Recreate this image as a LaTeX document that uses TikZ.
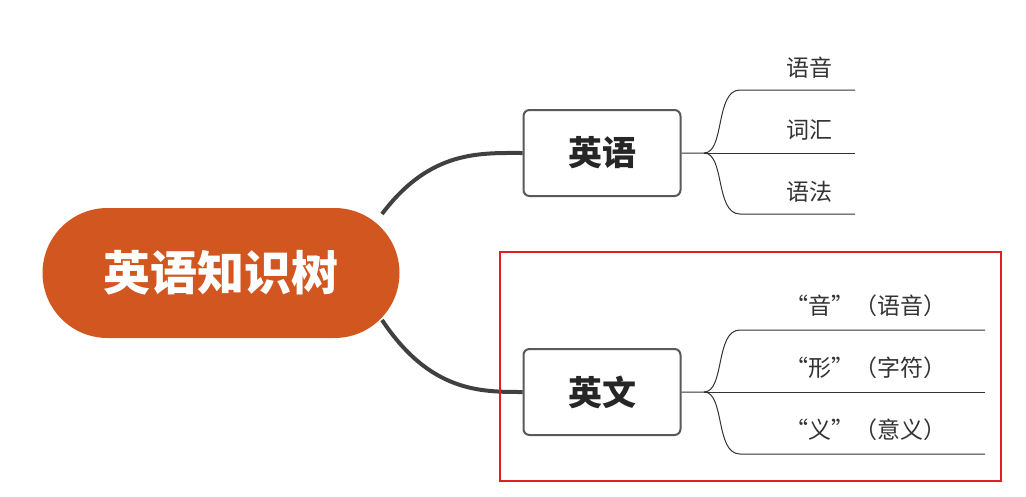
\documentclass[tikz,border=0pt]{standalone}
\usepackage{fontspec}
\newfontfamily\cjk{Noto Sans CJK SC}
\begin{document}
\begin{tikzpicture}[x=1pt,y=-1pt,
  rootbox/.style={fill=rootc,rounded corners=65pt,minimum width=357pt,minimum height=130pt,text=white,font=\cjk\bfseries\fontsize{47}{50}\selectfont},
  subbox/.style={draw=gray!70!black,line width=2pt,fill=white,rounded corners=6pt,minimum width=157pt,minimum height=86pt,font=\cjk\bfseries\fontsize{34}{38}\selectfont,text=black!85},
  link/.style={draw=black!75,line width=4pt},
  twig/.style={draw=black!80,line width=1pt},
  leaf/.style={font=\cjk\fontsize{23}{27}\selectfont,text=black!80}]
\definecolor{rootc}{HTML}{D2561F}
\definecolor{redc}{HTML}{E02020}
\useasboundingbox (0,0) rectangle (1026,496);
\node[rootbox] (root) at (221,273) {英语知识树};
\node[subbox] (en) at (602,153) {英语};
\node[subbox] (ew) at (602,392) {英文};
\coordinate (r1) at (382,214);
\coordinate (r2) at (382,320);
\draw[link] (r1) .. controls (430,150) and (480,153) .. (en.west);
\draw[link] (r2) .. controls (430,392) and (480,392) .. (ew.west);
% upper leaves
\coordinate (ja) at (704,153);
\coordinate (a1) at (740,90); \coordinate (a1e) at (855,90);
\coordinate (a2e) at (855,153);
\coordinate (a3) at (740,214); \coordinate (a3e) at (855,214);
\draw[twig] (en.east) -- (ja) .. controls (725,153) and (715,90) .. (a1) -- (a1e);
\draw[twig] (ja) -- (a2e);
\draw[twig] (ja) .. controls (725,153) and (715,214) .. (a3) -- (a3e);
\node[leaf] (l1) at (809,68) {语音};
\node[leaf] (l2) at (809,130) {词汇};
\node[leaf] (l3) at (809,192) {语法};
% lower leaves
\coordinate (jb) at (704,392);
\coordinate (b1) at (740,330); \coordinate (b1e) at (985,330);
\coordinate (b2e) at (985,392);
\coordinate (b3) at (740,454); \coordinate (b3e) at (985,454);
\draw[twig] (ew.east) -- (jb) .. controls (725,392) and (715,330) .. (b1) -- (b1e);
\draw[twig] (jb) -- (b2e);
\draw[twig] (jb) .. controls (725,392) and (715,454) .. (b3) -- (b3e);
\node[leaf] (m1) at (866,306) {“音”（语音）};
\node[leaf] (m2) at (866,368) {“形”（字符）};
\node[leaf] (m3) at (866,430) {“义”（意义）};
\node[draw=redc,line width=2pt,minimum width=501pt,minimum height=229pt] (frame) at (750.5,366.5) {};
\end{tikzpicture}
\end{document}
